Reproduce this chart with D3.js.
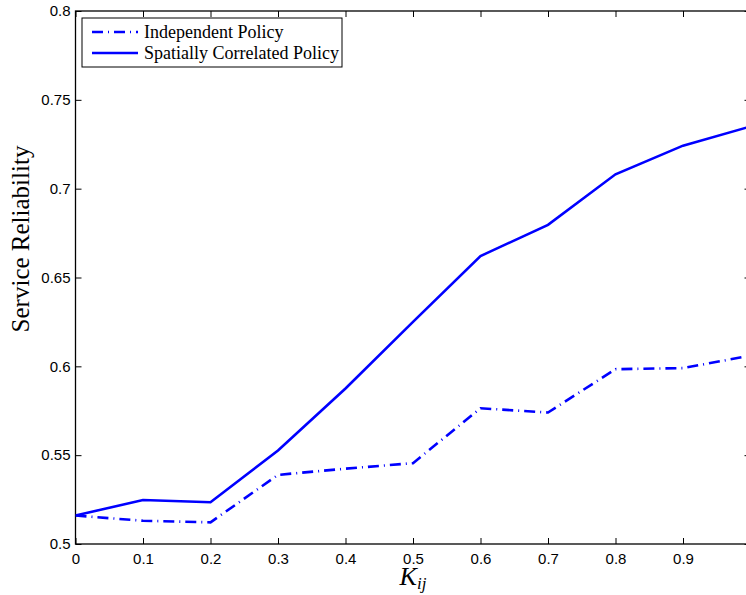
<!doctype html>
<html lang="en">
<head>
<meta charset="utf-8">
<title>Service Reliability</title>
<style>
  body { margin: 0; background: #fff; }
  svg { display: block; }
  .tick text { font-family: "Liberation Sans", Arial, sans-serif; font-size: 15px; fill: #000; }
</style>
</head>
<body>
<div id="chart"></div>
<script src="https://d3js.org/d3.v7.min.js"></script>
<script>
// data
var kValues = [0, 0.1, 0.2, 0.3, 0.4, 0.5, 0.6, 0.7, 0.8, 0.9, 1.0];
var independent = [0.516, 0.5131, 0.5122, 0.5389, 0.5424, 0.5455, 0.5764, 0.574, 0.5984, 0.599, 0.606];
var correlated = [0.516, 0.5248, 0.5235, 0.5526, 0.5875, 0.625, 0.6621, 0.6796, 0.7081, 0.7242, 0.735];
var xTicks = [0, 0.1, 0.2, 0.3, 0.4, 0.5, 0.6, 0.7, 0.8, 0.9];
var yTicks = [0.5, 0.55, 0.6, 0.65, 0.7, 0.75, 0.8];
var seriesNames = ["Independent Policy", "Spatially Correlated Policy"];

var w = 746, h = 595;
var pLeft = 75.5, pRight = 750.5, pTop = 11, pBottom = 544;

var svg = d3.select("#chart").append("svg")
  .attr("width", w)
  .attr("height", h);

var x = d3.scaleLinear().domain([0, 1]).range([pLeft, pRight]);
var y = d3.scaleLinear().domain([0.5, 0.8]).range([pBottom, pTop]);

// clip to the plot box
svg.append("clipPath").attr("id", "clip")
  .append("rect")
  .attr("x", pLeft).attr("y", pTop)
  .attr("width", pRight - pLeft).attr("height", pBottom - pTop);

var fmt = function(d) { return String(+d.toFixed(2)); };

// axes, ticks pointing inward like matlab
svg.append("g")
  .attr("transform", "translate(0," + pBottom + ")")
  .call(d3.axisBottom(x).tickValues(xTicks).tickFormat(fmt).tickSizeInner(-6).tickSizeOuter(0).tickPadding(9));
svg.append("g")
  .attr("transform", "translate(0," + pTop + ")")
  .call(d3.axisTop(x).tickValues(xTicks).tickFormat("").tickSizeInner(-6).tickSizeOuter(0));
svg.append("g")
  .attr("transform", "translate(" + pLeft + ",0)")
  .call(d3.axisLeft(y).tickValues(yTicks).tickFormat(fmt).tickSizeInner(-6).tickSizeOuter(0).tickPadding(5));
svg.append("g")
  .attr("transform", "translate(" + pRight + ",0)")
  .call(d3.axisRight(y).tickValues(yTicks).tickFormat("").tickSizeInner(-6).tickSizeOuter(0));

svg.selectAll(".domain").remove();
svg.selectAll(".tick line").attr("stroke", "#000").attr("stroke-width", 1);

// box
svg.append("rect")
  .attr("x", pLeft).attr("y", pTop)
  .attr("width", pRight - pLeft).attr("height", pBottom - pTop)
  .attr("fill", "none").attr("stroke", "#000").attr("stroke-width", 1.3);

var line = d3.line()
  .x(function(d, i) { return x(kValues[i]); })
  .y(function(d) { return y(d); });

var plot = svg.append("g").attr("clip-path", "url(#clip)");

plot.append("path")
  .datum(independent)
  .attr("d", line)
  .attr("fill", "none")
  .attr("stroke", "#0000ff")
  .attr("stroke-width", 2.6)
  .attr("stroke-dasharray", "11,5,1,5");

plot.append("path")
  .datum(correlated)
  .attr("d", line)
  .attr("fill", "none")
  .attr("stroke", "#0000ff")
  .attr("stroke-width", 2.6);

// legend
var lg = svg.append("g");
lg.append("rect")
  .attr("x", 82).attr("y", 18)
  .attr("width", 260).attr("height", 49)
  .attr("fill", "#fff").attr("stroke", "#000").attr("stroke-width", 1);

seriesNames.forEach(function(name, i) {
  var yy = 32 + i * 21;
  lg.append("line")
    .attr("x1", 92).attr("x2", 138)
    .attr("y1", yy).attr("y2", yy)
    .attr("stroke", "#0000ff")
    .attr("stroke-width", 2.6)
    .attr("stroke-dasharray", i == 0 ? "11,5,1,5" : null);
  lg.append("text")
    .attr("x", 144).attr("y", yy + 6)
    .style("font-family", "'Liberation Serif', 'Times New Roman', serif")
    .style("font-size", "18px")
    .text(name);
});

// axis titles
svg.append("text")
  .attr("transform", "translate(29,239) rotate(-90)")
  .attr("text-anchor", "middle")
  .style("font-family", "'Liberation Serif', 'Times New Roman', serif")
  .style("font-size", "25px")
  .text("Service Reliability");

var xl = svg.append("text")
  .attr("x", (pLeft + pRight) / 2)
  .attr("y", 585)
  .attr("text-anchor", "middle")
  .style("font-family", "'Liberation Serif', 'Times New Roman', serif")
  .style("font-style", "italic")
  .style("font-size", "26px");
xl.append("tspan").text("K");
xl.append("tspan").attr("dy", 4).style("font-size", "17px").text("ij");
</script>
</body>
</html>
